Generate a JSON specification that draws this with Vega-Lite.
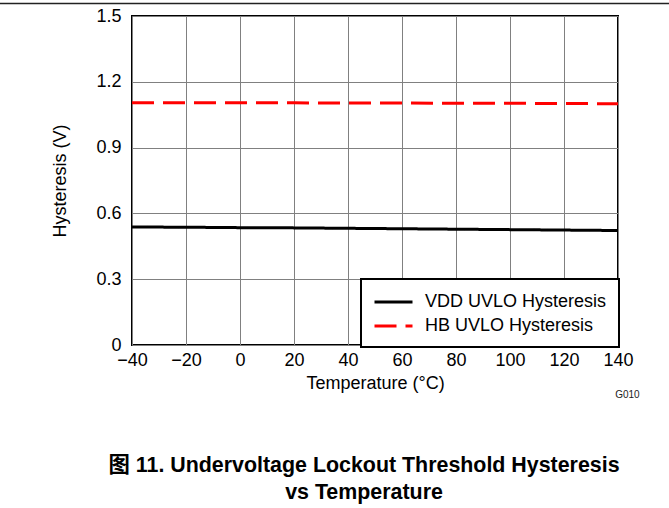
{
  "$schema": "https://vega.github.io/schema/vega-lite/v6.json",
  "width": 486,
  "height": 329,
  "autosize": "none",
  "padding": {"left": 132, "top": 16, "right": 51, "bottom": 163},
  "background": "white",
  "title": {
    "text": ["图 11. Undervoltage Lockout Threshold Hysteresis", "vs Temperature"],
    "orient": "bottom",
    "anchor": "middle",
    "frame": "group",
    "dx": -11,
    "offset": 55,
    "font": "Liberation Sans, Noto Sans CJK SC",
    "fontSize": 21.4,
    "fontWeight": "bold",
    "lineHeight": 27,
    "color": "black"
  },
  "config": {
    "view": {"stroke": "black", "strokeWidth": 2},
    "font": "Liberation Sans",
    "legend": {"strokeWidth": 2},
    "axis": {
      "domain": false,
      "ticks": false,
      "grid": true,
      "gridColor": "#808080",
      "gridWidth": 1,
      "labelFont": "Liberation Sans",
      "labelFontSize": 18,
      "labelColor": "black",
      "titleFont": "Liberation Sans",
      "titleFontSize": 18,
      "titleFontWeight": "normal",
      "titleColor": "black"
    }
  },
  "datasets": {
    "curves": [
      {"temp": -40, "hyst": 0.538, "series": "VDD UVLO Hysteresis"},
      {"temp": -20, "hyst": 0.537, "series": "VDD UVLO Hysteresis"},
      {"temp": 0, "hyst": 0.535, "series": "VDD UVLO Hysteresis"},
      {"temp": 20, "hyst": 0.534, "series": "VDD UVLO Hysteresis"},
      {"temp": 40, "hyst": 0.532, "series": "VDD UVLO Hysteresis"},
      {"temp": 60, "hyst": 0.530, "series": "VDD UVLO Hysteresis"},
      {"temp": 80, "hyst": 0.528, "series": "VDD UVLO Hysteresis"},
      {"temp": 100, "hyst": 0.526, "series": "VDD UVLO Hysteresis"},
      {"temp": 120, "hyst": 0.524, "series": "VDD UVLO Hysteresis"},
      {"temp": 140, "hyst": 0.522, "series": "VDD UVLO Hysteresis"},
      {"temp": -40, "hyst": 1.105, "series": "HB UVLO Hysteresis"},
      {"temp": -20, "hyst": 1.105, "series": "HB UVLO Hysteresis"},
      {"temp": 0, "hyst": 1.104, "series": "HB UVLO Hysteresis"},
      {"temp": 20, "hyst": 1.104, "series": "HB UVLO Hysteresis"},
      {"temp": 40, "hyst": 1.103, "series": "HB UVLO Hysteresis"},
      {"temp": 60, "hyst": 1.103, "series": "HB UVLO Hysteresis"},
      {"temp": 80, "hyst": 1.102, "series": "HB UVLO Hysteresis"},
      {"temp": 100, "hyst": 1.102, "series": "HB UVLO Hysteresis"},
      {"temp": 120, "hyst": 1.101, "series": "HB UVLO Hysteresis"},
      {"temp": 140, "hyst": 1.100, "series": "HB UVLO Hysteresis"}
    ],
    "note": [{"label": "G010", "tx": 143.5, "ty": -0.23}],
    "header": [{"xa": -89, "xb": 159, "yy": 1.557}]
  },
  "layer": [
    {
      "data": {"name": "curves"},
      "mark": {"type": "line", "strokeWidth": 3, "strokeCap": "butt"},
      "encoding": {
        "x": {
          "field": "temp",
          "type": "quantitative",
          "scale": {"domain": [-40, 140], "nice": false, "zero": false},
          "axis": {"values": [-40, -20, 0, 20, 40, 60, 80, 100, 120, 140], "title": "Temperature (°C)", "labelPadding": 6, "titlePadding": 5, "labelFlush": false}
        },
        "y": {
          "field": "hyst",
          "type": "quantitative",
          "scale": {"domain": [0, 1.5], "nice": false},
          "axis": {"values": [0, 0.3, 0.6, 0.9, 1.2, 1.5], "title": "Hysteresis (V)", "labelExpr": "datum.value == 0 ? '0' : format(datum.value, '.1f')", "labelPadding": 11, "titlePadding": 26, "labelFlush": false}
        },
        "color": {
          "field": "series",
          "type": "nominal",
          "scale": {"domain": ["VDD UVLO Hysteresis", "HB UVLO Hysteresis"], "range": ["black", "#ff0000"]},
          "legend": {
            "title": null,
            "orient": "none",
            "legendX": 229,
            "legendY": 263,
            "fillColor": "white",
            "strokeColor": "black",
            "padding": 12,
            "symbolType": "M-1,0H3",
            "symbolSize": 361,
            "symbolStrokeWidth": 3,
            "labelFont": "Liberation Sans",
            "labelFontSize": 18,
            "labelColor": "black",
            "labelLimit": 300,
            "labelOffset": 30,
            "rowPadding": 4,
            "cornerRadius": 0
          }
        },
        "strokeDash": {
          "field": "series",
          "type": "nominal",
          "scale": {"domain": ["VDD UVLO Hysteresis", "HB UVLO Hysteresis"], "range": [[1, 0], [22, 9]]},
          "legend": {
            "title": null,
            "orient": "none",
            "legendX": 229,
            "legendY": 263
          }
        }
      }
    },
    {
      "data": {"name": "note"},
      "mark": {"type": "text", "fontSize": 10, "color": "#222222", "font": "Liberation Sans", "align": "center", "baseline": "middle"},
      "encoding": {
        "x": {"field": "tx", "type": "quantitative", "scale": {"domain": [-40, 140], "nice": false, "zero": false}},
        "y": {"field": "ty", "type": "quantitative", "scale": {"domain": [0, 1.5], "nice": false}},
        "text": {"field": "label"}
      }
    },
    {
      "data": {"name": "header"},
      "mark": {"type": "rule", "color": "#222222", "strokeWidth": 1.5, "clip": false},
      "encoding": {
        "x": {"field": "xa", "type": "quantitative", "scale": {"domain": [-40, 140], "nice": false, "zero": false}},
        "x2": {"field": "xb"},
        "y": {"field": "yy", "type": "quantitative", "scale": {"domain": [0, 1.5], "nice": false}}
      }
    }
  ]
}
